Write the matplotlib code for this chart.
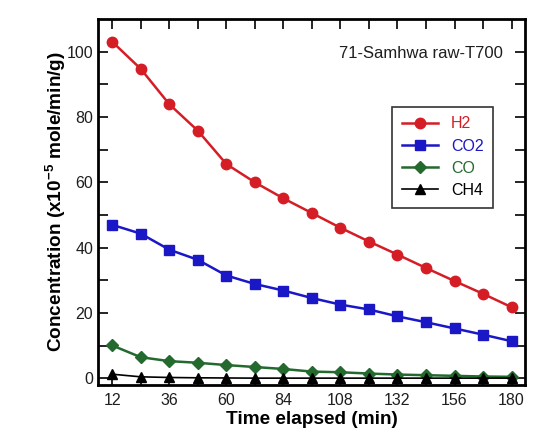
import matplotlib
matplotlib.use('Agg')
import matplotlib.pyplot as plt

plt.rcParams['font.family'] = ['Liberation Sans', 'DejaVu Sans']
plt.rcParams['mathtext.fontset'] = 'custom'
plt.rcParams['mathtext.rm'] = 'Liberation Sans'
plt.rcParams['mathtext.bf'] = 'Liberation Sans:bold'

# data
time_min = [12, 24, 36, 48, 60, 72, 84, 96, 108, 120, 132, 144, 156, 168, 180]
h2 = [103, 94.7, 83.9, 75.8, 65.6, 60.0, 55.1, 50.6, 46.1, 41.9, 37.9, 33.8, 29.8, 25.9, 21.8]
co2 = [47, 44.3, 39.4, 36.3, 31.5, 28.9, 26.9, 24.6, 22.6, 21.1, 19.0, 17.2, 15.3, 13.4, 11.4]
co = [10.1, 6.5, 5.3, 4.8, 4.1, 3.5, 2.9, 2.1, 1.9, 1.5, 1.2, 1.0, 0.8, 0.6, 0.5]
ch4 = [1.3, 0.5, 0.3, 0.2, 0.15, 0.1, 0.1, 0.1, 0.1, 0.1, 0.1, 0.1, 0.1, 0.1, 0.1]

xticks = [12, 36, 60, 84, 108, 132, 156, 180]
yticks = [0, 20, 40, 60, 80, 100]

red = '#d51d26'
blue = '#1a17c6'
green = '#24692e'

fig = plt.figure(figsize=(5.59, 4.40), dpi=100)
ax = fig.add_axes([0.1753, 0.125, 0.7637, 0.832])

ax.plot(time_min, h2, '-o', color=red, lw=1.8, ms=7.5, label='H2')
ax.plot(time_min, co2, '-s', color=blue, lw=1.8, ms=7.5, label='CO2')
ax.plot(time_min, co, '-D', color=green, lw=1.8, ms=6, label='CO')
ax.plot(time_min, ch4, '-^', color='black', lw=1.2, ms=7, label='CH4')

ax.set_xlim(6, 185.6)
ax.set_ylim(-2, 110)
ax.set_xticks(xticks)
ax.set_xticks(range(24, 181, 24), minor=True)
ax.set_yticks(yticks)
ax.set_yticks(range(10, 110, 20), minor=True)
ax.tick_params(which='both', direction='in', top=True, right=True,
               labelsize=11.5, colors='black', labelcolor='#1e1e1e')
ax.tick_params(which='major', length=7, width=1.2)
ax.tick_params(which='minor', length=7, width=1.2)
ax.tick_params(axis='x', pad=6)
for s in ax.spines.values():
    s.set_linewidth(2)

ax.set_xlabel('Time elapsed (min)', fontsize=13.7, fontweight='bold', labelpad=2)
ax.set_ylabel(r'Concentration (x10$^{\mathbf{-5}}$ mole/min/g)', fontsize=13.7,
              fontweight='bold', labelpad=-1)

ax.text(0.948, 0.905, '71-Samhwa raw-T700', transform=ax.transAxes, ha='right',
        va='center', fontsize=12, color='#1e1e1e')

leg = ax.legend(loc='upper left', bbox_to_anchor=(0.689, 0.76), fontsize=11.5,
                frameon=True, fancybox=False, edgecolor='black',
                handlelength=2.3, borderpad=0.6, labelspacing=0.45, borderaxespad=0)
leg.get_frame().set_linewidth(1.2)
for txt, c in zip(leg.get_texts(), [red, blue, green, 'black']):
    txt.set_color(c)

fig.savefig('out.png', dpi=100)
